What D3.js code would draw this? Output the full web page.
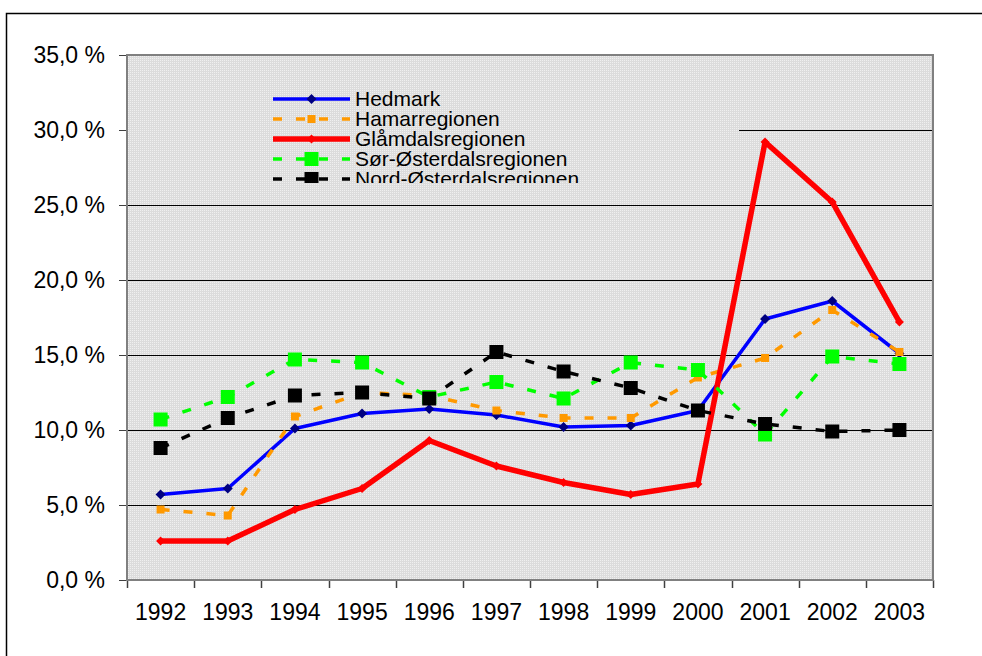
<!DOCTYPE html>
<html>
<head>
<meta charset="utf-8">
<script src="https://cdn.jsdelivr.net/npm/d3@7"></script>
<style>
  body { margin: 0; background: #fff; }
  svg { display: block; font-family: "Liberation Sans", Arial, sans-serif; }
</style>
</head>
<body>
<div id="chart"></div>
<script>
// data (percent)
var years = ["1992","1993","1994","1995","1996","1997","1998","1999","2000","2001","2002","2003"];
var hedmark   = [5.7, 6.1, 10.1, 11.1, 11.4, 11.0, 10.2, 10.3, 11.3, 17.4, 18.6, 15.1];
var hamar     = [4.7, 4.3, 10.9, 12.5, 12.3, 11.3, 10.8, 10.8, 13.5, 14.8, 18.0, 15.2];
var glamdal   = [2.6, 2.6, 4.7, 6.1, 9.3, 7.6, 6.5, 5.7, 6.4, 29.2, 25.2, 17.2];
var sorOst    = [10.7, 12.2, 14.7, 14.5, 12.2, 13.2, 12.1, 14.5, 14.0, 9.7, 14.9, 14.4];
var nordOst   = [8.8, 10.8, 12.3, 12.5, 12.1, 15.2, 13.9, 12.8, 11.3, 10.4, 9.9, 10.0];
var yTicks = [0, 5, 10, 15, 20, 25, 30, 35];

var series = [
  {name: "Hedmark", values: hedmark, color: "#0000ff", width: 3.5, dash: null, marker: "diamond", mColor: "#000080", mSize: 10},
  {name: "Hamarregionen", values: hamar, color: "#ff9900", width: 3.5, dash: "9,14", marker: "square", mColor: "#ff9900", mSize: 8},
  {name: "Glåmdalsregionen", values: glamdal, color: "#ff0000", width: 5.5, dash: null, marker: "diamond", mColor: "#ff0000", mSize: 9},
  {name: "Sør-Østerdalsregionen", values: sorOst, color: "#00ff00", width: 3.5, dash: "9,14", marker: "square", mColor: "#00ff00", mSize: 14},
  {name: "Nord-Østerdalsregionen", values: nordOst, color: "#000000", width: 3.5, dash: "9,14", marker: "square", mColor: "#000000", mSize: 14}
];

var width = 982, height = 656;
var plot = {left: 127, right: 933, top: 55, bottom: 580};

var svg = d3.select("#chart").append("svg")
  .attr("width", width).attr("height", height);

// dotted gray fill like the original
var defs = svg.append("defs");
var pat = defs.append("pattern").attr("id", "dots")
  .attr("width", 2).attr("height", 2).attr("patternUnits", "userSpaceOnUse");
pat.append("rect").attr("width", 2).attr("height", 2).attr("fill", "#dcdcdc");
pat.append("rect").attr("width", 1).attr("height", 1).attr("fill", "#f0f0f0");

defs.append("clipPath").attr("id", "legclip")
  .append("rect").attr("x", plot.left).attr("y", 57).attr("width", 739 - plot.left).attr("height", 126);

// outer frame
svg.append("rect")
  .attr("x", 6.5).attr("y", 13.5).attr("width", 1000).attr("height", 700)
  .attr("fill", "none").attr("stroke", "#000").attr("stroke-width", 1.5);

var x = d3.scaleBand().domain(years).range([plot.left, plot.right]).paddingInner(0).paddingOuter(0);
var y = d3.scaleLinear().domain([0, 35]).range([plot.bottom, plot.top]);
var cx = function(d, i) { return x(years[i]) + x.bandwidth() / 2; };

// plot background
svg.append("rect")
  .attr("x", plot.left).attr("y", plot.top)
  .attr("width", plot.right - plot.left).attr("height", plot.bottom - plot.top)
  .attr("fill", "url(#dots)");

// gridlines
svg.append("g").selectAll("line")
  .data(yTicks.filter(function(d){ return d > 0 && d < 35; }))
  .enter().append("line")
    .attr("x1", plot.left).attr("x2", plot.right)
    .attr("y1", function(d){ return Math.round(y(d)) + 0.5; })
    .attr("y2", function(d){ return Math.round(y(d)) + 0.5; })
    .attr("stroke", "#000").attr("stroke-width", 1);

// y axis
var yAxis = svg.append("g")
  .attr("transform", "translate(" + plot.left + ",0)")
  .call(d3.axisLeft(y).tickValues(yTicks).tickSize(8).tickPadding(14)
    .tickFormat(function(d){ return d.toFixed(1).replace(".", ",") + " %"; }));
yAxis.select(".domain").remove();
yAxis.selectAll("line").attr("stroke", "#404040");
yAxis.selectAll("text").attr("font-size", "23px").attr("fill", "#000")
  .attr("font-family", "Liberation Sans, Arial, sans-serif");

// x axis: labels in the middle of each band, ticks on band edges
var xAxis = svg.append("g")
  .attr("transform", "translate(0," + plot.bottom + ")")
  .call(d3.axisBottom(x).tickSize(0).tickPadding(24));
xAxis.select(".domain").remove();
xAxis.selectAll("text").attr("font-size", "23px").attr("fill", "#000")
  .attr("font-family", "Liberation Sans, Arial, sans-serif");
var edges = years.map(function(d){ return x(d); }).concat([plot.right]);
svg.append("g").selectAll("line").data(edges).enter().append("line")
  .attr("x1", function(d){ return Math.round(d) + 0.5; })
  .attr("x2", function(d){ return Math.round(d) + 0.5; })
  .attr("y1", plot.bottom).attr("y2", plot.bottom + 8)
  .attr("stroke", "#404040").attr("stroke-width", 1.5);

// plot border
svg.append("rect")
  .attr("x", plot.left).attr("y", plot.top)
  .attr("width", plot.right - plot.left).attr("height", plot.bottom - plot.top)
  .attr("fill", "none").attr("stroke", "#808080").attr("stroke-width", 2);

function drawMarker(sel, s, px, py) {
  var h = s.mSize / 2;
  if (s.marker === "diamond") {
    sel.append("path")
      .attr("d", "M" + px + "," + (py - h) + "L" + (px + h) + "," + py + "L" + px + "," + (py + h) + "L" + (px - h) + "," + py + "Z")
      .attr("fill", s.mColor);
  } else {
    sel.append("rect")
      .attr("x", px - h).attr("y", py - h).attr("width", s.mSize).attr("height", s.mSize)
      .attr("fill", s.mColor);
  }
}

var line = d3.line().x(cx).y(function(d){ return y(d); });

// series
series.forEach(function(s) {
  var g = svg.append("g");
  g.append("path")
    .datum(s.values)
    .attr("d", line)
    .attr("fill", "none")
    .attr("stroke", s.color)
    .attr("stroke-width", s.width)
    .attr("stroke-linejoin", "round")
    .attr("stroke-dasharray", s.dash);
  s.values.forEach(function(v, i) {
    drawMarker(g, s, cx(v, i), y(v));
  });
});

// legend (sits inside the plot, covers the 30 % gridline)
var leg = svg.append("g").attr("clip-path", "url(#legclip)");
leg.append("rect")
  .attr("x", plot.left + 1).attr("y", 57).attr("width", 739 - plot.left - 1).attr("height", 126)
  .attr("fill", "url(#dots)");
series.forEach(function(s, i) {
  var ly = 99 + i * 20;
  leg.append("line")
    .attr("x1", 273).attr("x2", 350).attr("y1", ly).attr("y2", ly)
    .attr("stroke", s.color).attr("stroke-width", s.width)
    .attr("stroke-dasharray", s.dash);
  drawMarker(leg, s, 311.5, ly);
  leg.append("text")
    .attr("x", 355).attr("y", ly + 7)
    .attr("font-size", "21px")
    .text(s.name);
});
</script>
</body>
</html>
